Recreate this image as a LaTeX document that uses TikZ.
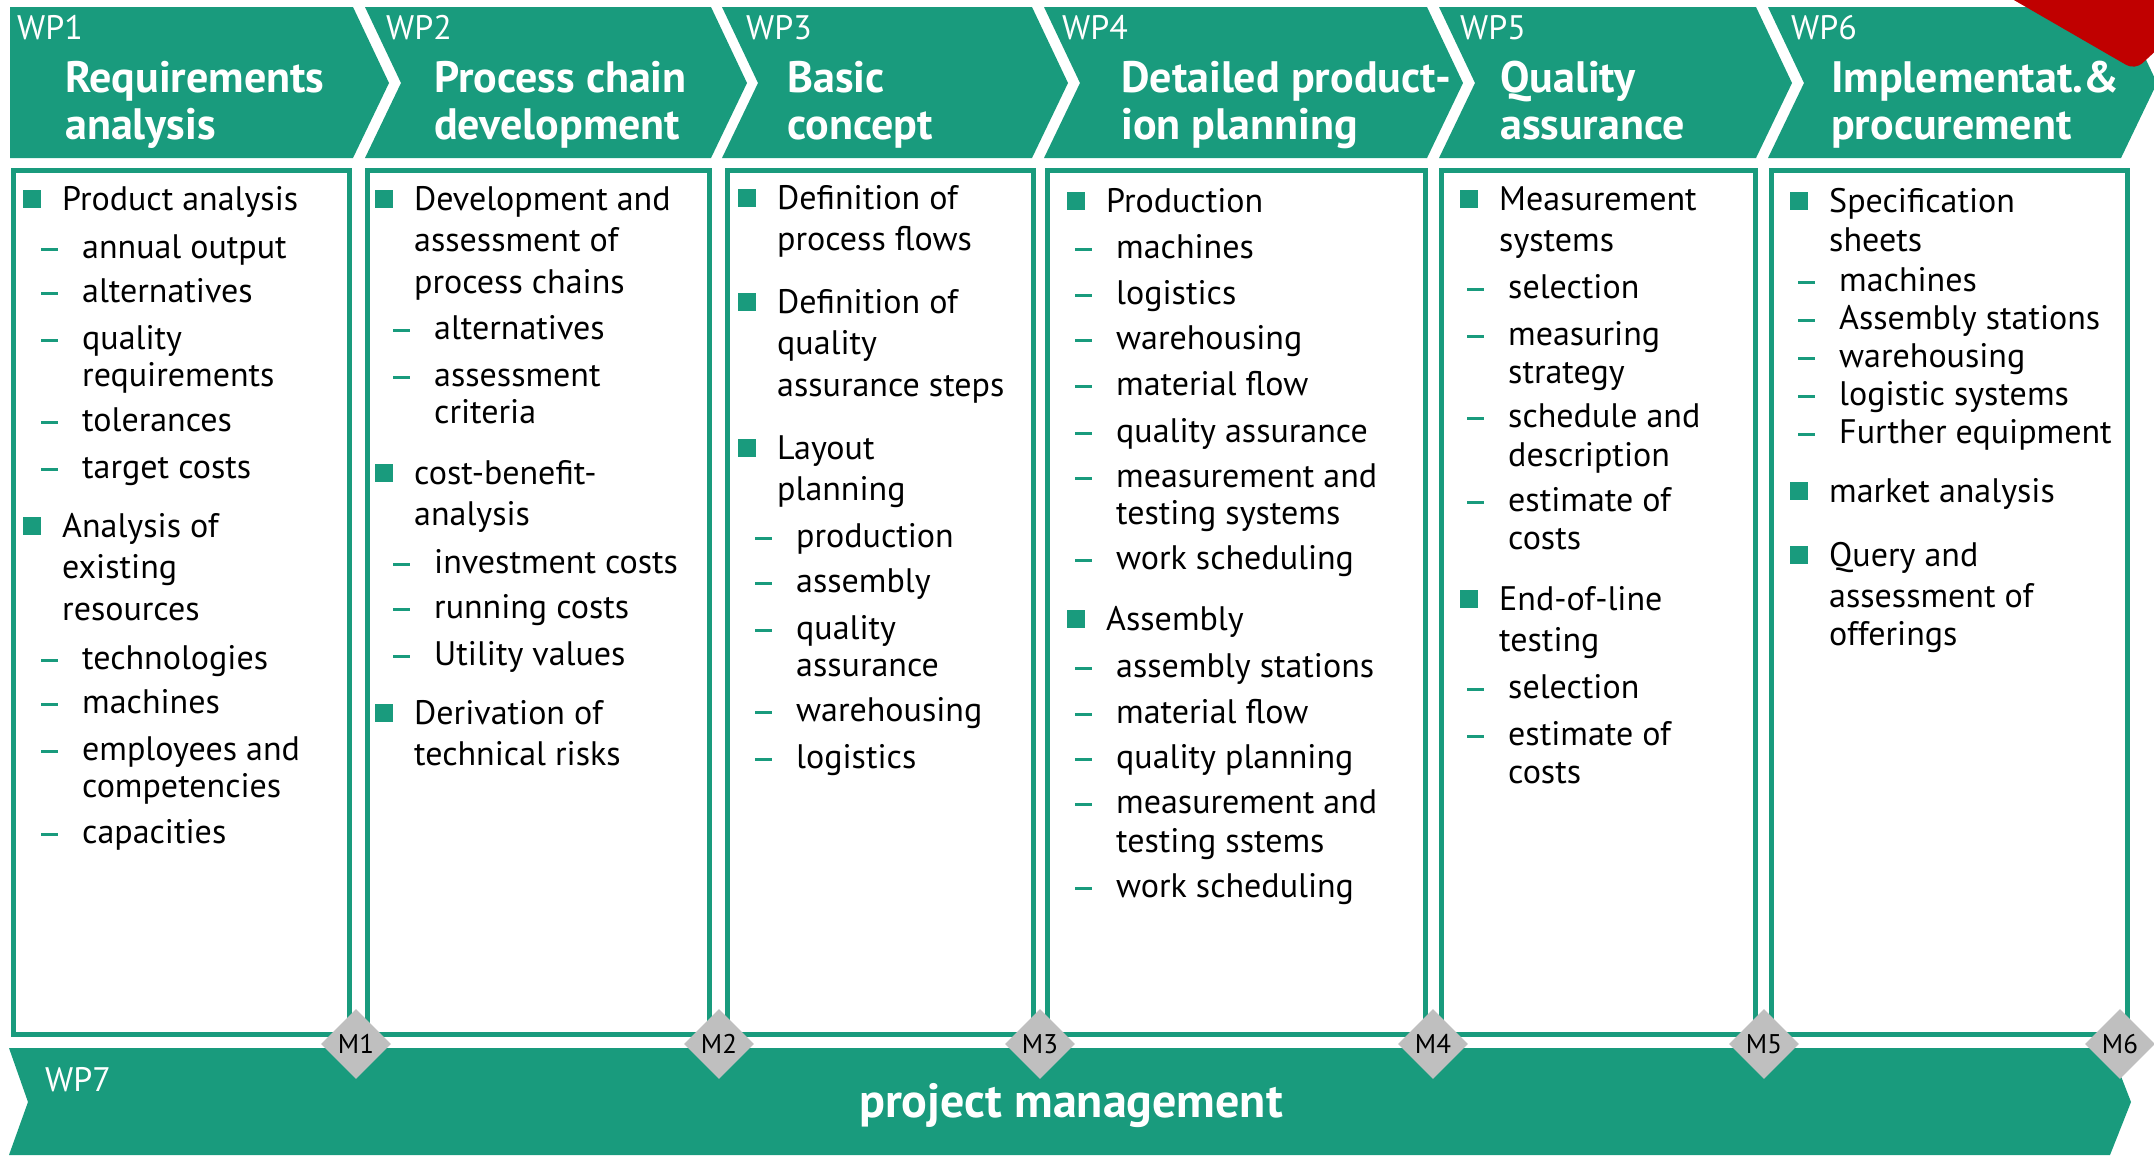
\documentclass[tikz,border=0pt]{standalone}
\usepackage{fontspec}
\setmainfont{PT Sans}
\usetikzlibrary{shapes.geometric}

\definecolor{wpgreen}{RGB}{25,155,125}
\definecolor{msgray}{RGB}{191,191,191}
\definecolor{badgered}{RGB}{192,0,0}

\newcommand{\bulmark}{\makebox[39pt][l]{\color{wpgreen}\rule[2pt]{18pt}{18pt}}}
\newcommand{\dshmark}{\makebox[41pt][l]{\color{wpgreen}\rule[7.5pt]{17pt}{3pt}}}
\def\dx{18}

\tikzset{
  txt/.style={anchor=base west, inner sep=0pt, font=\fontsize{34}{37}\selectfont},
  bul/.style={txt, execute at begin node={\bulmark}},
  bulc/.style={txt, execute at begin node={\hspace*{39pt}}},
  dsh/.style={txt, xshift=\dx pt, execute at begin node={\dshmark}},
  dshc/.style={txt, xshift=\dx pt, execute at begin node={\hspace*{41pt}}},
  wplbl/.style={anchor=base west, inner sep=0pt, text=white, font=\fontsize{34}{34}\selectfont},
  wptitle/.style={anchor=base west, inner sep=0pt, text=white, align=left, font=\bfseries\fontsize{44}{47}\selectfont},
  pmtitle/.style={anchor=base, inner sep=0pt, text=white, font=\bfseries\fontsize{48}{48}\selectfont},
  mstone/.style={diamond, aspect=1, fill=msgray, minimum width=70pt, minimum height=70pt, inner sep=0pt, font=\fontsize{27}{27}\selectfont}
}

\begin{document}
\begin{tikzpicture}[x=1pt,y=-1pt]
    \useasboundingbox (0,0) rectangle (2154,1157);

    % header chevrons
    \foreach \l/\r/\d in {10/353/0, 365/711/36, 722/1032/36, 1044/1427/36, 1439/1756/36, 1768/2121/36}
        \fill[wpgreen] (\l,7) -- (\r,7) -- (\r+36,83) -- (\r,158) -- (\l,158) -- (\l+\d,83) -- cycle;

    \begin{scope}
        \clip (0,0) rectangle (2154,1157);
        \fill[badgered, rounded corners=10pt] (2000,-8) -- (2135,70) -- (2200,10) -- (2100,-60) -- cycle;
    \end{scope}

    \foreach \x/\n [count=\i] in {17/WP1, 386/WP2, 746/WP3, 1062/WP4, 1460/WP5, 1791/WP6}
        \node[wplbl] (wp\i) at (\x,39) {\n};

    % titles sit on the baseline of their last line
    \node[wptitle] (title1) at (65,139) {Requirements\\analysis};
    \node[wptitle] (title2) at (434,139) {Process chain\\development};
    \node[wptitle] (title3) at (787,139) {Basic\\concept};
    \node[wptitle] (title4) at (1121,139) {Detailed product-\\ion planning};
    \node[wptitle] (title5) at (1500,139) {Quality\\assurance};
    \node[wptitle] (title6) at (1831,139) {Implementat.\&\\procurement};

    % content boxes
    \foreach \l/\r in {13/349, 367/709, 727/1033, 1047/1425, 1441/1755, 1771/2127}
        \draw[wpgreen, line width=5pt] (\l,170) rectangle (\r,1034);

    % WP1
    \def\dx{18}
    \foreach \y/\s/\t [count=\i] in {210/bul/Product analysis, 258/dsh/annual output,
        302/dsh/alternatives, 349/dsh/quality, 386/dshc/requirements, 431/dsh/tolerances,
        478/dsh/target costs, 537/bul/Analysis of, 578/bulc/existing, 620/bulc/resources,
        669/dsh/technologies, 713/dsh/machines, 760/dsh/employees and,
        797/dshc/competencies, 843/dsh/capacities}
        \node[\s] (a\i) at (23,\y) {\t};

    % WP2
    \def\dx{18}
    \foreach \y/\s/\t [count=\i] in {210/bul/Development and, 251/bulc/assessment of,
        293/bulc/process chains, 339/dsh/alternatives, 386/dsh/assessment, 423/dshc/criteria,
        484/bul/cost-benefit-, 525/bulc/analysis, 573/dsh/investment costs,
        618/dsh/running costs, 665/dsh/Utility values, 724/bul/Derivation of,
        765/bulc/technical risks}
        \node[\s] (b\i) at (375,\y) {\t};

    % WP3
    \def\dx{17}
    \foreach \y/\s/\t [count=\i] in {209/bul/Definition of, 250/bulc/process flows,
        313/bul/Definition of, 354/bulc/quality, 396/bulc/assurance steps, 459/bul/Layout,
        500/bulc/planning, 547/dsh/production, 592/dsh/assembly, 639/dsh/quality,
        676/dshc/assurance, 721/dsh/warehousing, 768/dsh/logistics}
        \node[\s] (c\i) at (738,\y) {\t};

    % WP4
    \def\dx{8}
    \foreach \y/\s/\t [count=\i] in {212/bul/Production, 258/dsh/machines, 304/dsh/logistics,
        349/dsh/warehousing, 395/dsh/material flow, 442/dsh/quality assurance,
        487/dsh/measurement and, 524/dshc/testing systems, 569/dsh/work scheduling,
        630/bul/Assembly, 677/dsh/assembly stations, 723/dsh/material flow,
        768/dsh/quality planning, 813/dsh/measurement and, 852/dshc/testing sstems,
        897/dsh/work scheduling}
        \node[\s] (d\i) at (1067,\y) {\t};

    % WP5
    \def\dx{7}
    \foreach \y/\s/\t [count=\i] in {210/bul/Measurement, 251/bulc/systems, 298/dsh/selection,
        345/dsh/measuring, 383/dshc/strategy, 427/dsh/schedule and, 466/dshc/description,
        511/dsh/estimate of, 549/dshc/costs, 610/bul/End-of-line, 651/bulc/testing,
        698/dsh/selection, 745/dsh/estimate of, 783/dshc/costs}
        \node[\s] (e\i) at (1460,\y) {\t};

    % WP6
    \def\dx{8}
    \foreach \y/\s/\t [count=\i] in {212/bul/Specification, 251/bulc/sheets, 291/dsh/machines,
        329/dsh/Assembly stations, 367/dsh/warehousing, 405/dsh/logistic systems,
        443/dsh/Further equipment, 502/bul/market analysis, 566/bul/Query and,
        607/bulc/assessment of, 645/bulc/offerings}
        \node[\s] (f\i) at (1790,\y) {\t};

    % WP7 band
    \fill[wpgreen] (9,1048) -- (2110,1048) -- (2131,1102) -- (2110,1155) -- (9,1155) -- (28,1102) -- cycle;
    \node[wplbl] (wp7) at (45,1091) {WP7};
    \node[pmtitle] (pm) at (1071,1117) {project management};

    % milestones
    \foreach \x [count=\i] in {356, 719, 1040, 1433, 1764, 2120}
        \node[mstone] (m\i) at (\x,1044) {M\i};
\end{tikzpicture}
\end{document}
